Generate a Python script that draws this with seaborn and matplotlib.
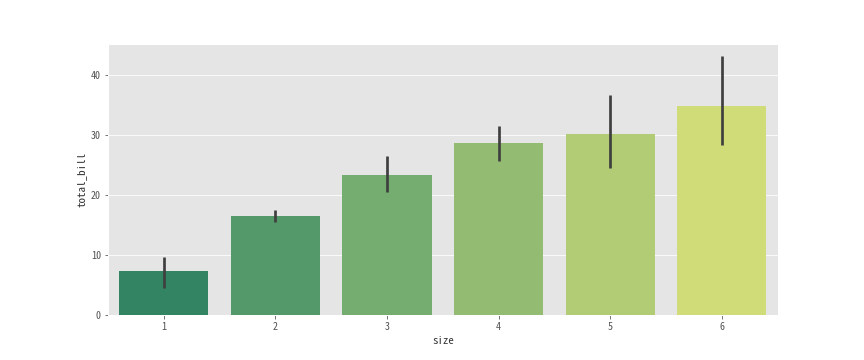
import matplotlib
matplotlib.use("Agg")
import matplotlib.pyplot as plt
import seaborn as sns
import pandas as pd

sizes = ["1", "2", "3", "4", "5", "6"]
mean_bill = [7.24, 16.45, 23.28, 28.61, 30.07, 34.83]
ci_low = [4.5, 15.5, 20.4, 25.7, 24.4, 28.2]
ci_high = [9.6, 17.4, 26.5, 31.4, 36.6, 43.1]

plt.style.use("ggplot")
plt.rcParams["font.family"] = ["Noto Sans Mono CJK SC", "DejaVu Sans Mono", "DejaVu Sans"]

df = pd.DataFrame({"size": sizes, "total_bill": mean_bill})

fig, ax = plt.subplots(figsize=(12, 5), dpi=72)
fig.subplots_adjust(left=0.125, right=0.9, top=0.878, bottom=0.125)
sns.barplot(data=df, x="size", y="total_bill", hue="size", palette="summer",
            legend=False, errorbar=None, ax=ax)
for i, (lo, hi) in enumerate(zip(ci_low, ci_high)):
    ax.plot([i, i], [lo, hi], color="#3f3f3f", lw=2.7, solid_capstyle="butt", zorder=3)
ax.set_xlim(-0.5, 5.5)
ax.set_ylim(0, 45.1)
ax.set_yticks([0, 10, 20, 30, 40])
ax.grid(axis="x", visible=False)
ax.tick_params(colors="#555555", labelsize=10)
ax.set_xlabel("size", color="#333333", fontsize=11)
ax.set_ylabel("total_bill", color="#333333", fontsize=11)
fig.savefig("out.png", dpi=72)
